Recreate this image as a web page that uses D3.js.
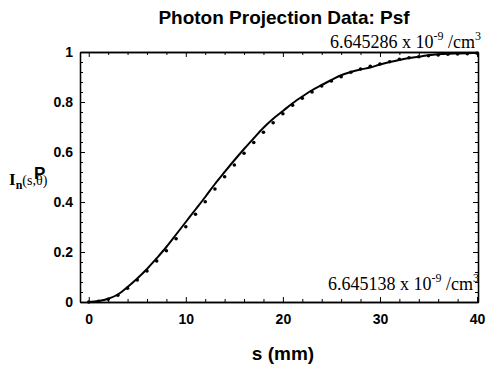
<head>
<script src="https://d3js.org/d3.v7.min.js"></script>
<style>
  body { margin: 0; background: white; }
  .tick text { font-family: "Liberation Sans", Arial, sans-serif; font-weight: bold; font-size: 14px; }
</style>
</head>
<body>
<svg id="plot" width="488" height="371"></svg>
<script>
// data
const sValues = d3.range(0, 41);
const measured = [0.0, 0.003, 0.011, 0.027, 0.055, 0.088, 0.124, 0.164, 0.205, 0.253,
  0.301, 0.351, 0.401, 0.452, 0.501, 0.548, 0.595, 0.638, 0.679, 0.717,
  0.753, 0.787, 0.815, 0.84, 0.864, 0.884, 0.901, 0.919, 0.932, 0.943,
  0.952, 0.961, 0.971, 0.977, 0.981, 0.985, 0.988, 0.991, 0.992, 0.993, 0.995];
const fitted = [0.0, 0.004, 0.013, 0.03, 0.06, 0.094, 0.132, 0.175, 0.22, 0.27,
  0.32, 0.37, 0.42, 0.472, 0.52, 0.567, 0.612, 0.655, 0.697, 0.733,
  0.764, 0.795, 0.822, 0.847, 0.868, 0.888, 0.907, 0.92, 0.93, 0.938,
  0.95, 0.96, 0.968, 0.976, 0.981, 0.987, 0.991, 0.993, 0.994, 0.995, 0.996];
const xTicks = [0, 10, 20, 30, 40];
const yTicks = [0, 0.2, 0.4, 0.6, 0.8, 1];
const topNote = ["6.645286 x 10", "-9", " /cm", "3"];
const bottomNote = ["6.645138 x 10", "-9", " /cm", "3"];

const svg = d3.select("svg#plot");
const margin = {top: 52, right: 10, bottom: 69, left: 80};
const width = +svg.attr("width");
const height = +svg.attr("height");

const x = d3.scaleLinear().domain([-0.9, 40.1]).range([margin.left, width - margin.right]);
const y = d3.scaleLinear().domain([0, 1]).range([height - margin.bottom, margin.top]);

const xMinor = d3.range(-0, 41, 2).filter(v => v % 10 != 0);
const yMinor = d3.range(0, 1.001, 0.04).filter(v => Math.abs(v * 5 - Math.round(v * 5)) > 0.01);

//frame with inward ticks on all four sides
svg.append("g")
  .attr("transform", `translate(0,${y(0)})`)
  .call(d3.axisBottom(x).tickValues(xTicks).tickSizeInner(-5).tickSizeOuter(0).tickPadding(12).tickFormat(d3.format("d")));
svg.append("g").attr("transform", `translate(0,${y(0)})`)
  .call(d3.axisBottom(x).tickValues(xMinor).tickSizeInner(-3).tickSizeOuter(0).tickFormat(""));
svg.append("g").attr("transform", `translate(0,${y(1)})`)
  .call(d3.axisTop(x).tickValues(xTicks).tickSizeInner(-5).tickSizeOuter(0).tickFormat(""));
svg.append("g").attr("transform", `translate(0,${y(1)})`)
  .call(d3.axisTop(x).tickValues(xMinor).tickSizeInner(-3).tickSizeOuter(0).tickFormat(""));

svg.append("g").attr("transform", `translate(${margin.left},0)`)
  .call(d3.axisLeft(y).tickValues(yTicks).tickSizeInner(-5).tickSizeOuter(0).tickPadding(7).tickFormat(d => d == 0 || d == 1 ? d3.format("d")(d) : d3.format(".1f")(d)));
svg.append("g").attr("transform", `translate(${margin.left},0)`)
  .call(d3.axisLeft(y).tickValues(yMinor).tickSizeInner(-3).tickSizeOuter(0).tickFormat(""));
svg.append("g").attr("transform", `translate(${width - margin.right},0)`)
  .call(d3.axisRight(y).tickValues(yTicks).tickSizeInner(-5).tickSizeOuter(0).tickFormat(""));
svg.append("g").attr("transform", `translate(${width - margin.right},0)`)
  .call(d3.axisRight(y).tickValues(yMinor).tickSizeInner(-3).tickSizeOuter(0).tickFormat(""));

svg.selectAll(".domain").attr("stroke", "black").attr("stroke-width", 1.3);
svg.selectAll(".tick line").attr("stroke", "black");
svg.selectAll(".tick text").attr("fill", "black");

//fitted curve
const line = d3.line().x((d, i) => x(sValues[i])).y(d => y(d)).curve(d3.curveMonotoneX);
svg.append("path")
  .datum(fitted)
  .attr("d", line)
  .attr("fill", "none")
  .attr("stroke", "black")
  .attr("stroke-width", 2);

//measured points
svg.selectAll("circle.pt")
  .data(measured)
  .enter()
  .append("circle")
  .attr("class", "pt")
  .attr("cx", (d, i) => x(sValues[i]))
  .attr("cy", d => y(d))
  .attr("r", 1.8)
  .attr("fill", "black");

//title
svg.append("text")
  .attr("x", 284).attr("y", 24)
  .attr("text-anchor", "middle")
  .style("font-family", "Liberation Sans, Arial, sans-serif")
  .style("font-weight", "bold").style("font-size", "19px")
  .text("Photon Projection Data: Psf");

//annotations
const note = function(parts, xr, yb) {
  const t = svg.append("text")
    .attr("x", xr).attr("y", yb)
    .attr("text-anchor", "end")
    .style("font-family", "Liberation Serif, Times New Roman, serif")
    .style("font-size", "18px");
  t.append("tspan").text(parts[0]);
  t.append("tspan").attr("dy", -8).style("font-size", "12px").text(parts[1]);
  t.append("tspan").attr("dy", 8).text(parts[2]);
  t.append("tspan").attr("dy", -8).style("font-size", "12px").text(parts[3]);
};
note(topNote, 481, 48);
note(bottomNote, 479, 290);

//axis titles
svg.append("text")
  .attr("x", 283).attr("y", 360)
  .attr("text-anchor", "middle")
  .style("font-family", "Liberation Sans, Arial, sans-serif")
  .style("font-weight", "bold").style("font-size", "19px")
  .text("s (mm)");

const yl = svg.append("text")
  .attr("x", 9).attr("y", 185)
  .style("font-family", "Liberation Serif, Times New Roman, serif")
  .style("font-weight", "bold").style("font-size", "17px");
yl.append("tspan").text("I");
yl.append("tspan").attr("dy", 4).style("font-size", "12px").text("n");
yl.append("tspan").attr("dy", -4).style("font-size", "14px").style("font-weight", "normal").text("(s,\u03b8)");
svg.append("text")
  .attr("x", 34).attr("y", 179)
  .style("font-family", "Liberation Sans, Arial, sans-serif")
  .style("font-weight", "bold").style("font-size", "17px")
  .text("P");
</script>
</body>
